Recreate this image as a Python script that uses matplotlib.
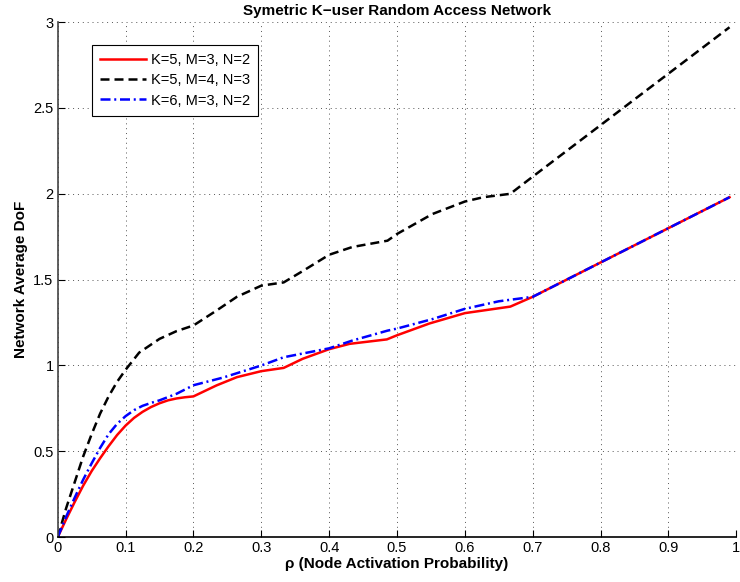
import matplotlib
matplotlib.use("Agg")
import matplotlib.pyplot as plt

plt.rcParams['font.family'] = ['Liberation Sans', 'DejaVu Sans']

# K=5, M=3, N=2
rho_a = [0.0, 0.0125, 0.025, 0.0375, 0.05, 0.0625, 0.075, 0.0875, 0.1, 0.1125, 0.125,
         0.1375, 0.15, 0.1625, 0.175, 0.1875, 0.2, 0.234, 0.264, 0.3,
         0.333, 0.361, 0.4, 0.43, 0.485, 0.5, 0.548, 0.6, 0.667, 0.7, 0.8, 0.9, 0.99]
dof_a = [0.0, 0.105, 0.205, 0.3, 0.385, 0.46, 0.53, 0.595, 0.65, 0.695, 0.73,
         0.758, 0.78, 0.797, 0.808, 0.815, 0.82, 0.884, 0.932, 0.967,
         0.986, 1.039, 1.095, 1.126, 1.152, 1.176, 1.245, 1.305, 1.343, 1.4, 1.6, 1.8, 1.98]

# K=5, M=4, N=3
rho_b = [0.0, 0.0125, 0.025, 0.0375, 0.05, 0.0625, 0.075, 0.0875, 0.1, 0.12, 0.15, 0.175,
         0.2, 0.234, 0.264, 0.3, 0.333, 0.361, 0.4, 0.434, 0.486, 0.5, 0.552, 0.6, 0.627,
         0.667, 0.7, 0.8, 0.9, 0.99]
dof_b = [0.0, 0.17, 0.32, 0.47, 0.6, 0.72, 0.82, 0.905, 0.975, 1.075, 1.155, 1.2,
         1.233, 1.32, 1.4, 1.465, 1.484, 1.55, 1.645, 1.69, 1.727, 1.766, 1.882, 1.955, 1.98,
         2.0, 2.1, 2.4, 2.7, 2.97]

# K=6, M=3, N=2
rho_c = [0.0, 0.0125, 0.025, 0.0375, 0.05, 0.0625, 0.075, 0.0875, 0.1, 0.1125, 0.125,
         0.1375, 0.15, 0.175, 0.2, 0.244, 0.3, 0.333, 0.4, 0.434, 0.486, 0.5, 0.552, 0.6,
         0.65, 0.7, 0.8, 0.9, 0.99]
dof_c = [0.0, 0.12, 0.23, 0.335, 0.43, 0.52, 0.6, 0.66, 0.705, 0.74, 0.765,
         0.782, 0.797, 0.835, 0.885, 0.93, 1.0, 1.048, 1.1, 1.145, 1.203, 1.215, 1.27, 1.33,
         1.374, 1.4, 1.6, 1.8, 1.98]

x_ticks = [0, 0.1, 0.2, 0.3, 0.4, 0.5, 0.6, 0.7, 0.8, 0.9, 1]
x_tick_labels = ['0', '0.1', '0.2', '0.3', '0.4', '0.5', '0.6', '0.7', '0.8', '0.9', '1']
y_ticks = [0, 0.5, 1, 1.5, 2, 2.5, 3]
y_tick_labels = ['0', '0.5', '1', '1.5', '2', '2.5', '3']

fig = plt.figure(figsize=(7.4, 5.82), dpi=100)
ax = fig.add_axes([0.078, 0.077, 0.917, 0.885])

ax.plot(rho_a, dof_a, color='#ff0000', linewidth=1.8, linestyle='-', label='K=5, M=3, N=2')
ax.plot(rho_b, dof_b, color='black', linewidth=1.8, linestyle=(0, (3.6, 2.0)), label='K=5, M=4, N=3')
ax.plot(rho_c, dof_c, color='#0000ff', linewidth=1.8, linestyle=(0, (4, 1.5, 0.8, 1.5)), label='K=6, M=3, N=2')

ax.set_xlim(0, 1)
ax.set_ylim(0, 3)
ax.set_xticks(x_ticks)
ax.set_xticklabels(x_tick_labels)
ax.set_yticks(y_ticks)
ax.set_yticklabels(y_tick_labels)
ax.tick_params(direction='in', length=5, labelsize=10.5, colors='black', pad=3)

ax.grid(True, linestyle=(0, (1, 4)), color='#555555', linewidth=0.7)
ax.spines['top'].set_visible(False)
ax.spines['right'].set_visible(False)
ax.spines['left'].set_color('#444444')
ax.spines['left'].set_linewidth(1.2)
ax.spines['bottom'].set_linewidth(1.2)

ax.set_title('Symetric K\u2212user Random Access Network', fontsize=11, fontweight='bold', pad=5)
ax.set_xlabel('\u03c1 (Node Activation Probability)', fontsize=11, fontweight='bold', labelpad=1)
ax.set_ylabel('Network Average DoF', fontsize=11, fontweight='bold', labelpad=4)

leg = ax.legend(loc='upper left', bbox_to_anchor=(0.05, 0.955), fontsize=10.5, frameon=True,
                fancybox=False, edgecolor='black', framealpha=1, handlelength=3.2,
                borderpad=0.55, labelspacing=0.42, handletextpad=0.3, borderaxespad=0)
leg.get_frame().set_linewidth(0.8)

fig.savefig('out.png', dpi=100)
